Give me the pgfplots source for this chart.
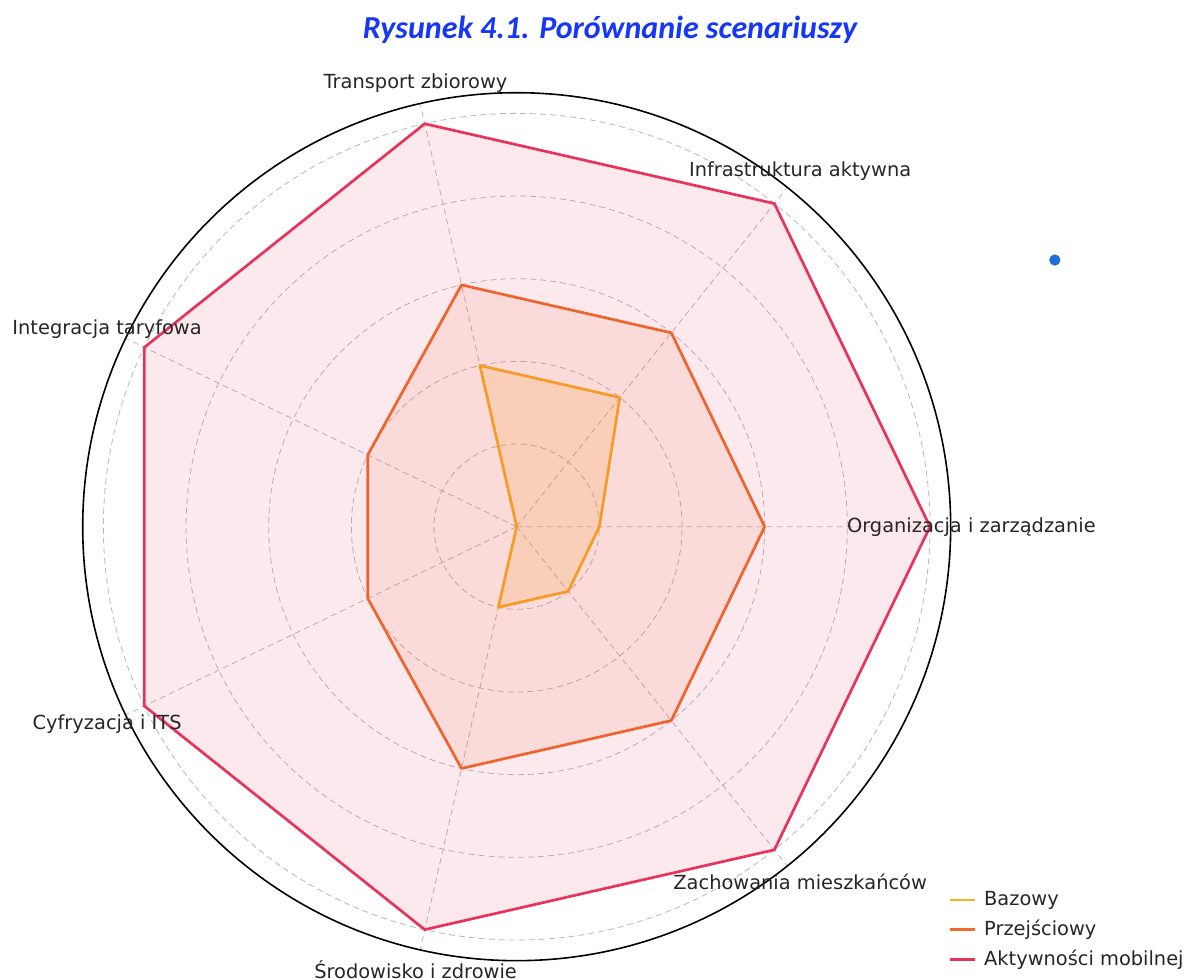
\documentclass[border=0pt]{standalone}
\usepackage{pgfplots}
\pgfplotsset{compat=1.18}
\usepgfplotslibrary{polar}
\usepackage{fontspec}
\setmainfont{DejaVu Sans}
\newfontfamily\carlito{Carlito}
\definecolor{cyel}{HTML}{FBB01D}
\definecolor{corg}{HTML}{F06A28}
\definecolor{cred}{HTML}{E8335A}
\definecolor{ctitle}{HTML}{1636F8}
\definecolor{ctext}{HTML}{262626}
\definecolor{cdot}{HTML}{1F6FD6}
\begin{document}
\begin{tikzpicture}
\begin{polaraxis}[
  at={(0,0)}, anchor=center,
  scale only axis, width=434pt, height=434pt,
  ymin=0, ymax=5.25,
  xtick={0,51.4286,102.8571,154.2857,205.7143,257.1429,308.5714},
  xticklabels={}, ytick={1,2,3,4,5}, yticklabels={},
  major tick length=0pt,
  grid=major,
  major grid style={dash pattern=on 3pt off 2pt, color=black!28, line width=0.4pt},
  separate axis lines,
  x axis line style={black, line width=0.8pt},
  y axis line style={draw=none},
  clip=false,
  font=\fontsize{9.7}{11.6}\selectfont,
  legend cell align=left,
  legend image code/.code={\draw[#1, fill=none] (0pt,0pt) -- (12.5pt,0pt); \path (15.5pt,0pt);},
  legend style={at={(axis description cs:0.997,0.0826)}, anchor=north west,
    draw=none, fill=none, inner sep=0pt, row sep=3.7pt,
    nodes={inner sep=1pt, text=ctext}, font=\fontsize{9.7}{11.6}\selectfont},
]
\addplot[cyel, line width=1.35pt, line join=round, fill=cyel, fill opacity=0.18]
  coordinates {(0,1) (51.4286,2) (102.8571,2) (154.2857,0) (205.7143,0) (257.1429,1) (308.5714,1) (360,1)};
\addlegendentry{Bazowy}
\addplot[corg, line width=1.35pt, line join=round, fill=corg, fill opacity=0.10]
  coordinates {(0,3) (51.4286,3) (102.8571,3) (154.2857,2) (205.7143,2) (257.1429,3) (308.5714,3) (360,3)};
\addlegendentry{Przejściowy}
\addplot[cred, line width=1.35pt, line join=round, fill=cred, fill opacity=0.11]
  coordinates {(0,5) (51.4286,5) (102.8571,5) (154.2857,5) (205.7143,5) (257.1429,5) (308.5714,5) (360,5)};
\addlegendentry{Aktywności mobilnej}
\addplot[only marks, mark=*, mark size=2.6pt, color=cdot, forget plot]
  coordinates {(26.36,7.266)};
\node[text=ctext] at (axis cs:0,5.5) {Organizacja i zarządzanie};
\node[text=ctext] at (axis cs:51.4286,5.5) {Infrastruktura aktywna};
\node[text=ctext] at (axis cs:102.8571,5.5) {Transport zbiorowy};
\node[text=ctext] at (axis cs:154.2857,5.5) {Integracja taryfowa};
\node[text=ctext] at (axis cs:205.7143,5.5) {Cyfryzacja i ITS};
\node[text=ctext] at (axis cs:257.1429,5.5) {Środowisko i zdrowie};
\node[text=ctext] at (axis cs:308.5714,5.5) {Zachowania mieszkańców};
\node[text=ctitle, font=\carlito\bfseries\itshape\fontsize{16}{19}\selectfont] at (axis description cs:0.6075,1.0722) {Rysunek 4.1. Porównanie scenariuszy};
\coordinate (bl) at (axis description cs:-0.0953,-0.0211);
\coordinate (tr) at (axis description cs:1.2734,1.1068);
\end{polaraxis}
\pgfresetboundingbox
\path[use as bounding box] (bl) rectangle (tr);
\end{tikzpicture}
\end{document}
